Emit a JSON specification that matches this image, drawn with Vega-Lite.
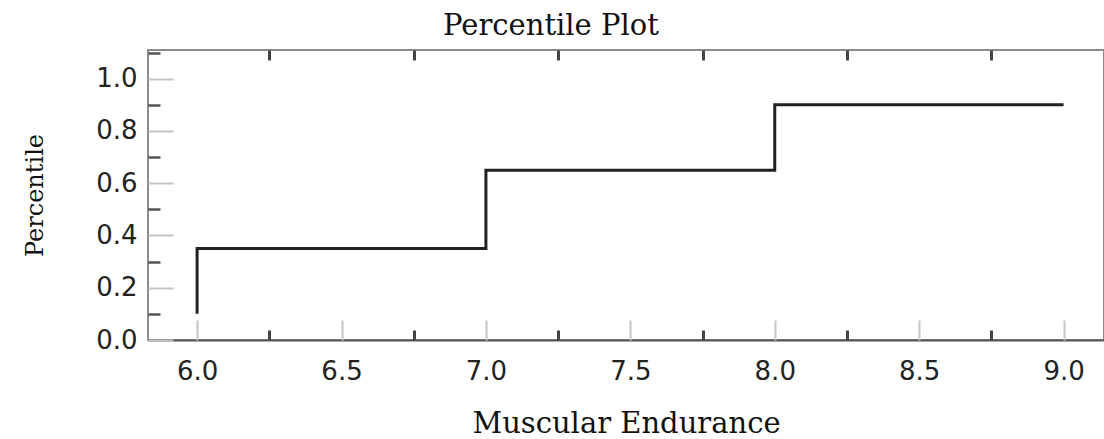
{
  "$schema": "https://vega.github.io/schema/vega-lite/v6.json",
  "width": 956,
  "height": 290,
  "autosize": {"type": "none"},
  "padding": {"left": 148, "top": 50, "right": 0, "bottom": 99},
  "background": "white",
  "title": {
    "text": "Percentile Plot",
    "font": "DejaVu Serif",
    "fontSize": 29,
    "fontWeight": "normal",
    "color": "#111",
    "anchor": "middle",
    "dx": -75,
    "offset": 8
  },
  "config": {
    "view": {"stroke": "#8c8c8c", "strokeWidth": 2},
    "axis": {"grid": false}
  },
  "data": {
    "values": [
      {"i": 1, "endurance": 6.0, "percentile": 0.1},
      {"i": 2, "endurance": 6.0, "percentile": 0.35},
      {"i": 3, "endurance": 7.0, "percentile": 0.35},
      {"i": 4, "endurance": 7.0, "percentile": 0.65},
      {"i": 5, "endurance": 8.0, "percentile": 0.65},
      {"i": 6, "endurance": 8.0, "percentile": 0.9},
      {"i": 7, "endurance": 9.0, "percentile": 0.9}
    ]
  },
  "layer": [
    {
      "mark": {"type": "line", "color": "#222", "strokeWidth": 3, "clip": true},
      "encoding": {
        "x": {
          "field": "endurance", "type": "quantitative",
          "scale": {"domain": [5.83, 9.14], "nice": false, "zero": false},
          "axis": {
            "orient": "bottom",
            "values": [6, 6.5, 7, 7.5, 8, 8.5, 9],
            "format": ".1f",
            "ticks": false,
            "domain": true, "domainColor": "#555", "domainWidth": 2,
            "labelFont": "DejaVu Sans", "labelFontSize": 26, "labelColor": "#222",
            "labelPadding": 18,
            "title": "Muscular Endurance",
            "titleFont": "DejaVu Serif", "titleFontSize": 29, "titleFontWeight": "normal",
            "titleColor": "#111", "titlePadding": 25
          }
        },
        "y": {
          "field": "percentile", "type": "quantitative",
          "scale": {"domain": [0, 1.11], "nice": false},
          "axis": {
            "orient": "left",
            "values": [0, 0.2, 0.4, 0.6, 0.8, 1.0],
            "format": ".1f",
            "ticks": false,
            "domain": false,
            "labelFont": "DejaVu Sans", "labelFontSize": 26, "labelColor": "#222",
            "labelPadding": 11,
            "title": "Percentile",
            "titleFont": "DejaVu Serif", "titleFontSize": 24, "titleFontWeight": "normal",
            "titleColor": "#111", "titlePadding": 48
          }
        },
        "order": {"field": "i", "type": "quantitative"}
      }
    },
    {
      "mark": {"type": "line", "strokeOpacity": 0},
      "encoding": {
        "x": {
          "field": "endurance", "type": "quantitative",
          "scale": {"domain": [5.83, 9.14], "nice": false, "zero": false},
          "axis": {
            "orient": "bottom", "values": [6, 6.5, 7, 7.5, 8, 8.5, 9],
            "labels": false, "domain": false, "title": null,
            "ticks": true, "tickSize": -20, "tickColor": "#c4c4c4", "tickWidth": 2
          }
        },
        "y": {
          "field": "percentile", "type": "quantitative",
          "scale": {"domain": [0, 1.11], "nice": false},
          "axis": {
            "orient": "left", "values": [0, 0.2, 0.4, 0.6, 0.8, 1.0],
            "labels": false, "domain": false, "title": null,
            "ticks": true, "tickSize": -25, "tickColor": "#c4c4c4", "tickWidth": 2
          }
        },
        "order": {"field": "i", "type": "quantitative"}
      }
    },
    {
      "mark": {"type": "line", "strokeOpacity": 0},
      "encoding": {
        "x": {
          "field": "endurance", "type": "quantitative",
          "scale": {"domain": [5.83, 9.14], "nice": false, "zero": false},
          "axis": {
            "orient": "bottom", "values": [6.25, 6.75, 7.25, 7.75, 8.25, 8.75],
            "labels": false, "domain": false, "title": null,
            "ticks": true, "tickSize": -10, "tickColor": "#444", "tickWidth": 3
          }
        },
        "y": {
          "field": "percentile", "type": "quantitative",
          "scale": {"domain": [0, 1.11], "nice": false},
          "axis": {
            "orient": "left", "values": [0.1, 0.3, 0.5, 0.7, 0.9, 1.1],
            "labels": false, "domain": false, "title": null,
            "ticks": true, "tickSize": -12, "tickColor": "#555", "tickWidth": 2.5
          }
        },
        "order": {"field": "i", "type": "quantitative"}
      }
    },
    {
      "mark": {"type": "line", "strokeOpacity": 0},
      "encoding": {
        "x": {
          "field": "endurance", "type": "quantitative",
          "scale": {"domain": [5.83, 9.14], "nice": false, "zero": false},
          "axis": {
            "orient": "top", "values": [6.25, 6.75, 7.25, 7.75, 8.25, 8.75],
            "labels": false, "domain": false, "title": null,
            "ticks": true, "tickSize": -10, "tickColor": "#444", "tickWidth": 3
          }
        },
        "y": {
          "field": "percentile", "type": "quantitative",
          "scale": {"domain": [0, 1.11], "nice": false},
          "axis": null
        },
        "order": {"field": "i", "type": "quantitative"}
      }
    }
  ],
  "resolve": {"axis": {"x": "independent", "y": "independent"}}
}
